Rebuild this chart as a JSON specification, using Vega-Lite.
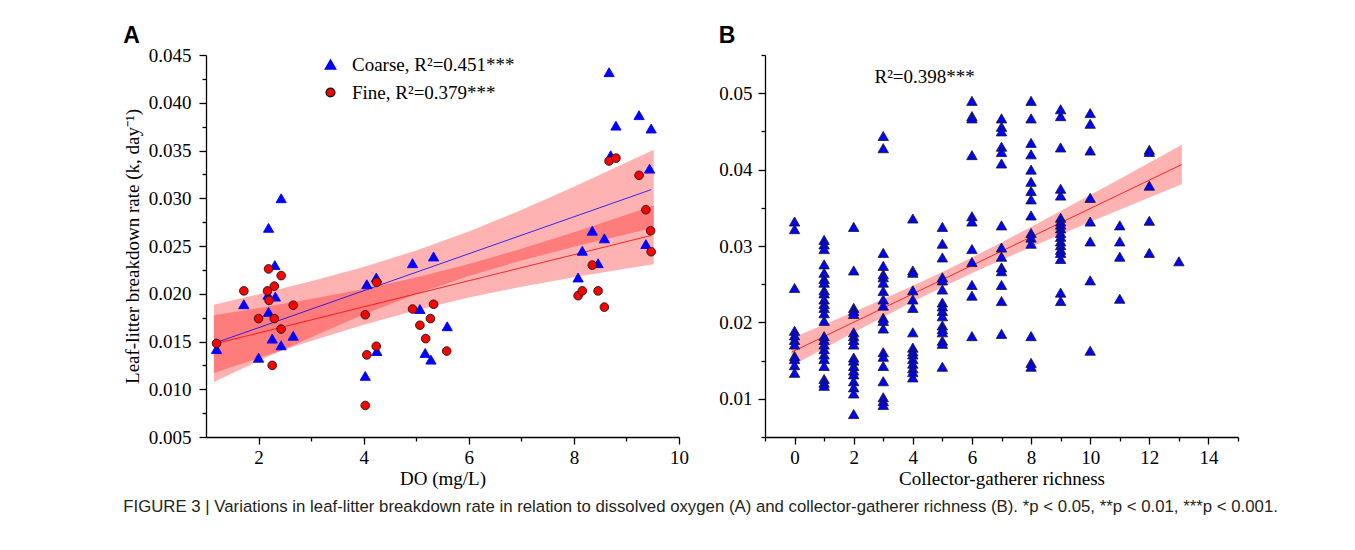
{
  "$schema": "https://vega.github.io/schema/vega-lite/v6.json",
  "padding": {"left": 123, "top": 25, "right": 10, "bottom": 10},
  "background": "white",
  "spacing": 29,
  "title": {
    "text": "FIGURE 3 | Variations in leaf-litter breakdown rate in relation to dissolved oxygen (A) and collector-gatherer richness (B). *p < 0.05, **p < 0.01, ***p < 0.001.",
    "orient": "bottom", "anchor": "start", "font": "Liberation Sans", "fontSize": 16.8, "fontWeight": "normal", "color": "#231f20", "offset": 11, "limit": 0
  },
  "config": {
    "view": {"stroke": null},
    "axis": {
      "labelFont": "Liberation Serif", "titleFont": "Liberation Serif", "labelFontSize": 19, "titleFontSize": 19,
      "titleFontWeight": "normal", "labelColor": "#000", "titleColor": "#000", "domainColor": "#000", "tickColor": "#000",
      "domainWidth": 1.3, "tickWidth": 1.3, "grid": false, "labelFlush": false, "labelOverlap": false
    }
  },
  "datasets": {
    "aPts": [
      {"DO": 1.20, "k": 0.0142, "series": "Coarse"}, {"DO": 1.72, "k": 0.0189, "series": "Coarse"}, {"DO": 2.00, "k": 0.0133, "series": "Coarse"},
      {"DO": 2.19, "k": 0.0269, "series": "Coarse"}, {"DO": 2.31, "k": 0.0230, "series": "Coarse"}, {"DO": 2.18, "k": 0.0199, "series": "Coarse"},
      {"DO": 2.32, "k": 0.0197, "series": "Coarse"}, {"DO": 2.19, "k": 0.0181, "series": "Coarse"}, {"DO": 2.26, "k": 0.0153, "series": "Coarse"},
      {"DO": 2.43, "k": 0.0146, "series": "Coarse"}, {"DO": 2.66, "k": 0.0156, "series": "Coarse"}, {"DO": 2.43, "k": 0.0300, "series": "Coarse"},
      {"DO": 4.06, "k": 0.0210, "series": "Coarse"}, {"DO": 4.24, "k": 0.0217, "series": "Coarse"}, {"DO": 4.25, "k": 0.0140, "series": "Coarse"},
      {"DO": 4.03, "k": 0.0114, "series": "Coarse"}, {"DO": 4.93, "k": 0.0232, "series": "Coarse"}, {"DO": 5.33, "k": 0.0239, "series": "Coarse"},
      {"DO": 5.07, "k": 0.0184, "series": "Coarse"}, {"DO": 5.59, "k": 0.0166, "series": "Coarse"}, {"DO": 5.17, "k": 0.0138, "series": "Coarse"},
      {"DO": 5.28, "k": 0.0131, "series": "Coarse"}, {"DO": 8.08, "k": 0.0217, "series": "Coarse"}, {"DO": 8.16, "k": 0.0245, "series": "Coarse"},
      {"DO": 8.35, "k": 0.0266, "series": "Coarse"}, {"DO": 8.58, "k": 0.0258, "series": "Coarse"}, {"DO": 8.46, "k": 0.0232, "series": "Coarse"},
      {"DO": 9.37, "k": 0.0252, "series": "Coarse"}, {"DO": 8.67, "k": 0.0432, "series": "Coarse"}, {"DO": 9.24, "k": 0.0387, "series": "Coarse"},
      {"DO": 8.80, "k": 0.0376, "series": "Coarse"}, {"DO": 9.47, "k": 0.0373, "series": "Coarse"}, {"DO": 8.70, "k": 0.0345, "series": "Coarse"},
      {"DO": 9.44, "k": 0.0331, "series": "Coarse"},
      {"DO": 1.20, "k": 0.0148, "series": "Fine"}, {"DO": 1.72, "k": 0.0203, "series": "Fine"}, {"DO": 2.00, "k": 0.0174, "series": "Fine"},
      {"DO": 2.19, "k": 0.0226, "series": "Fine"}, {"DO": 2.17, "k": 0.0203, "series": "Fine"}, {"DO": 2.20, "k": 0.0193, "series": "Fine"},
      {"DO": 2.30, "k": 0.0208, "series": "Fine"}, {"DO": 2.43, "k": 0.0219, "series": "Fine"}, {"DO": 2.30, "k": 0.0174, "series": "Fine"},
      {"DO": 2.43, "k": 0.0163, "series": "Fine"}, {"DO": 2.26, "k": 0.0125, "series": "Fine"}, {"DO": 2.66, "k": 0.0188, "series": "Fine"},
      {"DO": 4.03, "k": 0.0178, "series": "Fine"}, {"DO": 4.25, "k": 0.0212, "series": "Fine"}, {"DO": 4.06, "k": 0.0136, "series": "Fine"},
      {"DO": 4.24, "k": 0.0145, "series": "Fine"}, {"DO": 4.03, "k": 0.0083, "series": "Fine"}, {"DO": 4.93, "k": 0.0184, "series": "Fine"},
      {"DO": 5.33, "k": 0.0189, "series": "Fine"}, {"DO": 5.27, "k": 0.0174, "series": "Fine"}, {"DO": 5.07, "k": 0.0167, "series": "Fine"},
      {"DO": 5.18, "k": 0.0153, "series": "Fine"}, {"DO": 5.58, "k": 0.0140, "series": "Fine"}, {"DO": 8.08, "k": 0.0198, "series": "Fine"},
      {"DO": 8.16, "k": 0.0203, "series": "Fine"}, {"DO": 8.46, "k": 0.0203, "series": "Fine"}, {"DO": 8.58, "k": 0.0186, "series": "Fine"},
      {"DO": 8.35, "k": 0.0230, "series": "Fine"}, {"DO": 9.37, "k": 0.0288, "series": "Fine"}, {"DO": 9.46, "k": 0.0266, "series": "Fine"},
      {"DO": 9.47, "k": 0.0244, "series": "Fine"}, {"DO": 9.24, "k": 0.0324, "series": "Fine"}, {"DO": 8.67, "k": 0.0339, "series": "Fine"},
      {"DO": 8.80, "k": 0.0342, "series": "Fine"}
    ],
    "aBand": [
      {"DO": 1.15, "k": 0.01076, "k2": 0.01884, "series": "Coarse"}, {"DO": 2, "k": 0.01295, "k2": 0.01995, "series": "Coarse"},
      {"DO": 3, "k": 0.01545, "k2": 0.02131, "series": "Coarse"}, {"DO": 4, "k": 0.01783, "k2": 0.02281, "series": "Coarse"},
      {"DO": 5, "k": 0.01997, "k2": 0.02453, "series": "Coarse"}, {"DO": 6, "k": 0.02186, "k2": 0.02652, "series": "Coarse"},
      {"DO": 7, "k": 0.02347, "k2": 0.02877, "series": "Coarse"}, {"DO": 8, "k": 0.02492, "k2": 0.03120, "series": "Coarse"},
      {"DO": 9, "k": 0.02624, "k2": 0.03374, "series": "Coarse"}, {"DO": 9.52, "k": 0.02691, "k2": 0.03509, "series": "Coarse"},
      {"DO": 1.15, "k": 0.01170, "k2": 0.01776, "series": "Fine"}, {"DO": 2, "k": 0.01327, "k2": 0.01851, "series": "Fine"},
      {"DO": 3, "k": 0.01506, "k2": 0.01946, "series": "Fine"}, {"DO": 4, "k": 0.01675, "k2": 0.02049, "series": "Fine"},
      {"DO": 5, "k": 0.01828, "k2": 0.02170, "series": "Fine"}, {"DO": 6, "k": 0.01961, "k2": 0.02311, "series": "Fine"},
      {"DO": 7, "k": 0.02073, "k2": 0.02471, "series": "Fine"}, {"DO": 8, "k": 0.02173, "k2": 0.02645, "series": "Fine"},
      {"DO": 9, "k": 0.02264, "k2": 0.02826, "series": "Fine"}, {"DO": 9.52, "k": 0.02310, "k2": 0.02924, "series": "Fine"}
    ],
    "aLine": [
      {"DO": 1.2, "k": 0.0149, "series": "Coarse"}, {"DO": 9.47, "k": 0.0309, "series": "Coarse"},
      {"DO": 1.2, "k": 0.0148, "series": "Fine"}, {"DO": 9.47, "k": 0.0261, "series": "Fine"}
    ],
    "bPts": [
      {"r": 0, "k": 0.0332}, {"r": 0, "k": 0.0322}, {"r": 0, "k": 0.0245}, {"r": 0, "k": 0.0189}, {"r": 0, "k": 0.0183}, {"r": 0, "k": 0.0177},
      {"r": 0, "k": 0.0171}, {"r": 0, "k": 0.0156}, {"r": 0, "k": 0.0152}, {"r": 0, "k": 0.0144}, {"r": 0, "k": 0.0134},
      {"r": 1, "k": 0.0308}, {"r": 1, "k": 0.0302}, {"r": 1, "k": 0.0296}, {"r": 1, "k": 0.0276}, {"r": 1, "k": 0.0265}, {"r": 1, "k": 0.0257},
      {"r": 1, "k": 0.0252}, {"r": 1, "k": 0.0242}, {"r": 1, "k": 0.0238}, {"r": 1, "k": 0.0230}, {"r": 1, "k": 0.0224}, {"r": 1, "k": 0.0219},
      {"r": 1, "k": 0.0212}, {"r": 1, "k": 0.0202}, {"r": 1, "k": 0.0182}, {"r": 1, "k": 0.0177}, {"r": 1, "k": 0.0171}, {"r": 1, "k": 0.0165},
      {"r": 1, "k": 0.0158}, {"r": 1, "k": 0.0152}, {"r": 1, "k": 0.0143}, {"r": 1, "k": 0.0126}, {"r": 1, "k": 0.0121}, {"r": 1, "k": 0.0117},
      {"r": 2, "k": 0.0325}, {"r": 2, "k": 0.0268}, {"r": 2, "k": 0.0219}, {"r": 2, "k": 0.0215}, {"r": 2, "k": 0.0211}, {"r": 2, "k": 0.0187},
      {"r": 2, "k": 0.0182}, {"r": 2, "k": 0.0177}, {"r": 2, "k": 0.0171}, {"r": 2, "k": 0.0154}, {"r": 2, "k": 0.0150}, {"r": 2, "k": 0.0143},
      {"r": 2, "k": 0.0137}, {"r": 2, "k": 0.0132}, {"r": 2, "k": 0.0123}, {"r": 2, "k": 0.0115}, {"r": 2, "k": 0.0107}, {"r": 2, "k": 0.0080},
      {"r": 3, "k": 0.0444}, {"r": 3, "k": 0.0428}, {"r": 3, "k": 0.0291}, {"r": 3, "k": 0.0274}, {"r": 3, "k": 0.0263}, {"r": 3, "k": 0.0259},
      {"r": 3, "k": 0.0252}, {"r": 3, "k": 0.0241}, {"r": 3, "k": 0.0230}, {"r": 3, "k": 0.0222}, {"r": 3, "k": 0.0206}, {"r": 3, "k": 0.0202},
      {"r": 3, "k": 0.0192}, {"r": 3, "k": 0.0161}, {"r": 3, "k": 0.0155}, {"r": 3, "k": 0.0143}, {"r": 3, "k": 0.0123}, {"r": 3, "k": 0.0102},
      {"r": 3, "k": 0.0097}, {"r": 3, "k": 0.0092},
      {"r": 4, "k": 0.0336}, {"r": 4, "k": 0.0268}, {"r": 4, "k": 0.0265}, {"r": 4, "k": 0.0242}, {"r": 4, "k": 0.0230}, {"r": 4, "k": 0.0219},
      {"r": 4, "k": 0.0187}, {"r": 4, "k": 0.0167}, {"r": 4, "k": 0.0162}, {"r": 4, "k": 0.0158}, {"r": 4, "k": 0.0152}, {"r": 4, "k": 0.0146},
      {"r": 4, "k": 0.0140}, {"r": 4, "k": 0.0135}, {"r": 4, "k": 0.0128},
      {"r": 5, "k": 0.0325}, {"r": 5, "k": 0.0303}, {"r": 5, "k": 0.0285}, {"r": 5, "k": 0.0259}, {"r": 5, "k": 0.0255}, {"r": 5, "k": 0.0243},
      {"r": 5, "k": 0.0226}, {"r": 5, "k": 0.0221}, {"r": 5, "k": 0.0215}, {"r": 5, "k": 0.0208}, {"r": 5, "k": 0.0196}, {"r": 5, "k": 0.0191},
      {"r": 5, "k": 0.0187}, {"r": 5, "k": 0.0176}, {"r": 5, "k": 0.0172}, {"r": 5, "k": 0.0142},
      {"r": 6, "k": 0.0490}, {"r": 6, "k": 0.0470}, {"r": 6, "k": 0.0467}, {"r": 6, "k": 0.0419}, {"r": 6, "k": 0.0339}, {"r": 6, "k": 0.0332},
      {"r": 6, "k": 0.0296}, {"r": 6, "k": 0.0279}, {"r": 6, "k": 0.0249}, {"r": 6, "k": 0.0235}, {"r": 6, "k": 0.0182},
      {"r": 7, "k": 0.0467}, {"r": 7, "k": 0.0456}, {"r": 7, "k": 0.0450}, {"r": 7, "k": 0.0430}, {"r": 7, "k": 0.0423}, {"r": 7, "k": 0.0408},
      {"r": 7, "k": 0.0327}, {"r": 7, "k": 0.0298}, {"r": 7, "k": 0.0286}, {"r": 7, "k": 0.0272}, {"r": 7, "k": 0.0267}, {"r": 7, "k": 0.0249},
      {"r": 7, "k": 0.0228}, {"r": 7, "k": 0.0185},
      {"r": 8, "k": 0.0490}, {"r": 8, "k": 0.0467}, {"r": 8, "k": 0.0435}, {"r": 8, "k": 0.0420}, {"r": 8, "k": 0.0400}, {"r": 8, "k": 0.0384},
      {"r": 8, "k": 0.0372}, {"r": 8, "k": 0.0361}, {"r": 8, "k": 0.0340}, {"r": 8, "k": 0.0317}, {"r": 8, "k": 0.0311}, {"r": 8, "k": 0.0303},
      {"r": 8, "k": 0.0182}, {"r": 8, "k": 0.0147}, {"r": 8, "k": 0.0142},
      {"r": 9, "k": 0.0479}, {"r": 9, "k": 0.0470}, {"r": 9, "k": 0.0429}, {"r": 9, "k": 0.0375}, {"r": 9, "k": 0.0366}, {"r": 9, "k": 0.0337},
      {"r": 9, "k": 0.0332}, {"r": 9, "k": 0.0328}, {"r": 9, "k": 0.0323}, {"r": 9, "k": 0.0317}, {"r": 9, "k": 0.0312}, {"r": 9, "k": 0.0306},
      {"r": 9, "k": 0.0301}, {"r": 9, "k": 0.0295}, {"r": 9, "k": 0.0291}, {"r": 9, "k": 0.0283}, {"r": 9, "k": 0.0239}, {"r": 9, "k": 0.0228},
      {"r": 10, "k": 0.0474}, {"r": 10, "k": 0.0460}, {"r": 10, "k": 0.0425}, {"r": 10, "k": 0.0363}, {"r": 10, "k": 0.0332}, {"r": 10, "k": 0.0306},
      {"r": 10, "k": 0.0255}, {"r": 10, "k": 0.0163},
      {"r": 11, "k": 0.0327}, {"r": 11, "k": 0.0306}, {"r": 11, "k": 0.0286}, {"r": 11, "k": 0.0231},
      {"r": 12, "k": 0.0426}, {"r": 12, "k": 0.0423}, {"r": 12, "k": 0.0379}, {"r": 12, "k": 0.0333}, {"r": 12, "k": 0.0291},
      {"r": 13, "k": 0.0280}
    ],
    "bBand": [
      {"r": -0.1, "k": 0.01429, "k2": 0.01793}, {"r": 1, "k": 0.01660, "k2": 0.01972}, {"r": 2, "k": 0.01867, "k2": 0.02137},
      {"r": 3, "k": 0.02071, "k2": 0.02305}, {"r": 4, "k": 0.02269, "k2": 0.02479}, {"r": 5, "k": 0.02460, "k2": 0.02660},
      {"r": 6, "k": 0.02642, "k2": 0.02850}, {"r": 7, "k": 0.02817, "k2": 0.03047}, {"r": 8, "k": 0.02986, "k2": 0.03250},
      {"r": 9, "k": 0.03151, "k2": 0.03457}, {"r": 10, "k": 0.03313, "k2": 0.03667}, {"r": 11, "k": 0.03474, "k2": 0.03878},
      {"r": 12, "k": 0.03634, "k2": 0.04090}, {"r": 13.1, "k": 0.03809, "k2": 0.04325}
    ],
    "bLine": [{"r": -0.1, "k": 0.01611}, {"r": 13.1, "k": 0.04067}],
    "bLab": [{"r": 4.4, "k": 0.0521, "label": "R²=0.398***"}]
  },
  "hconcat": [
    {
      "width": 473, "height": 382,
      "title": {"text": "A", "anchor": "start", "frame": "bounds", "font": "Liberation Sans", "fontSize": 23, "fontWeight": "bold", "color": "#000", "offset": -2},
      "encoding": {
        "x": {"field": "DO", "type": "quantitative", "scale": {"domain": [1, 10], "nice": false, "zero": false},
          "axis": {"title": "DO (mg/L)", "values": [2, 3, 4, 5, 6, 7, 8, 9, 10], "labelExpr": "datum.value % 2 == 0 ? datum.label : ''",
            "tickSize": {"condition": {"test": "datum.value % 2 == 0", "value": 7}, "value": 4}, "labelPadding": 4, "titlePadding": 2}},
        "y": {"field": "k", "type": "quantitative", "scale": {"domain": [0.005, 0.045], "nice": false, "zero": false},
          "axis": {"title": "Leaf-litter breakdown rate (k, day⁻¹)",
            "values": [0.005, 0.0075, 0.01, 0.0125, 0.015, 0.0175, 0.02, 0.0225, 0.025, 0.0275, 0.03, 0.0325, 0.035, 0.0375, 0.04, 0.0425, 0.045],
            "format": ".3f", "labelExpr": "abs(round(datum.value*10000) % 50) < 1 ? datum.label : ''",
            "tickSize": {"condition": {"test": "abs(round(datum.value*10000) % 50) < 1", "value": 7}, "value": 4},
            "labelPadding": 8, "titlePadding": 6}}
      },
      "layer": [
        {"data": {"name": "aBand"}, "mark": {"type": "area", "color": "#ff0000", "opacity": 0.3},
          "encoding": {"y2": {"field": "k2"}, "detail": {"field": "series"}}},
        {"data": {"name": "aLine"}, "transform": [{"filter": "datum.series == 'Coarse'"}],
          "mark": {"type": "line", "color": "#0000ff", "strokeWidth": 0.8}, "encoding": {}},
        {"data": {"name": "aLine"}, "transform": [{"filter": "datum.series == 'Fine'"}],
          "mark": {"type": "line", "color": "#ff0000", "strokeWidth": 0.8}, "encoding": {}},
        {"data": {"name": "aPts"}, "mark": {"type": "point", "filled": true, "opacity": 1, "strokeWidth": 0.9},
          "encoding": {
            "color": {"field": "series", "type": "nominal", "scale": {"domain": ["Coarse", "Fine"], "range": ["#0000ff", "#ff0000"]},
              "legend": {"title": null, "orient": "none", "legendX": 115, "legendY": 0, "padding": 0, "labelLimit": 0,
                "labelFont": "Liberation Serif", "labelFontSize": 19, "labelColor": "#000", "rowPadding": 8, "labelOffset": 12,
                "labelExpr": "datum.label == 'Coarse' ? 'Coarse, R²=0.451***' : 'Fine, R²=0.379***'"}},
            "shape": {"field": "series", "type": "nominal", "scale": {"domain": ["Coarse", "Fine"], "range": ["triangle-up", "circle"]}},
            "stroke": {"field": "series", "type": "nominal", "scale": {"domain": ["Coarse", "Fine"], "range": ["#0000ff", "#1a1a1a"]}},
            "size": {"field": "series", "type": "nominal", "scale": {"domain": ["Coarse", "Fine"], "range": [105, 75]}}
          }}
      ]
    },
    {
      "width": 473, "height": 382,
      "title": {"text": "B", "anchor": "start", "frame": "bounds", "font": "Liberation Sans", "fontSize": 23, "fontWeight": "bold", "color": "#000", "offset": -2},
      "encoding": {
        "x": {"field": "r", "type": "quantitative", "scale": {"domain": [-1, 15], "nice": false, "zero": false},
          "axis": {"title": "Collector-gatherer richness", "values": [-1, 0, 1, 2, 3, 4, 5, 6, 7, 8, 9, 10, 11, 12, 13, 14, 15],
            "labelExpr": "datum.value % 2 == 0 ? datum.label : ''",
            "tickSize": {"condition": {"test": "datum.value % 2 == 0", "value": 7}, "value": 4}, "labelPadding": 4, "titlePadding": 2}},
        "y": {"field": "k", "type": "quantitative", "scale": {"domain": [0.005, 0.055], "nice": false, "zero": false},
          "axis": {"title": null, "values": [0.005, 0.01, 0.015, 0.02, 0.025, 0.03, 0.035, 0.04, 0.045, 0.05, 0.055],
            "format": ".2f", "labelExpr": "abs(round(datum.value*1000) % 10) < 1 ? datum.label : ''",
            "tickSize": {"condition": {"test": "abs(round(datum.value*1000) % 10) < 1", "value": 7}, "value": 4},
            "labelPadding": 6}}
      },
      "layer": [
        {"data": {"name": "bBand"}, "mark": {"type": "area", "color": "#ff0000", "opacity": 0.3}, "encoding": {"y2": {"field": "k2"}}},
        {"data": {"name": "bLine"}, "mark": {"type": "line", "color": "#ff0000", "strokeWidth": 0.8}, "encoding": {}},
        {"data": {"name": "bPts"}, "mark": {"type": "point", "shape": "triangle-up", "filled": true, "fill": "#0000ff", "stroke": "#1a1a1a", "strokeWidth": 0.8, "size": 110, "opacity": 1}, "encoding": {}},
        {"data": {"name": "bLab"}, "mark": {"type": "text", "font": "Liberation Serif", "fontSize": 19, "color": "#000", "align": "center", "baseline": "middle"},
          "encoding": {"text": {"field": "label"}}}
      ]
    }
  ]
}
